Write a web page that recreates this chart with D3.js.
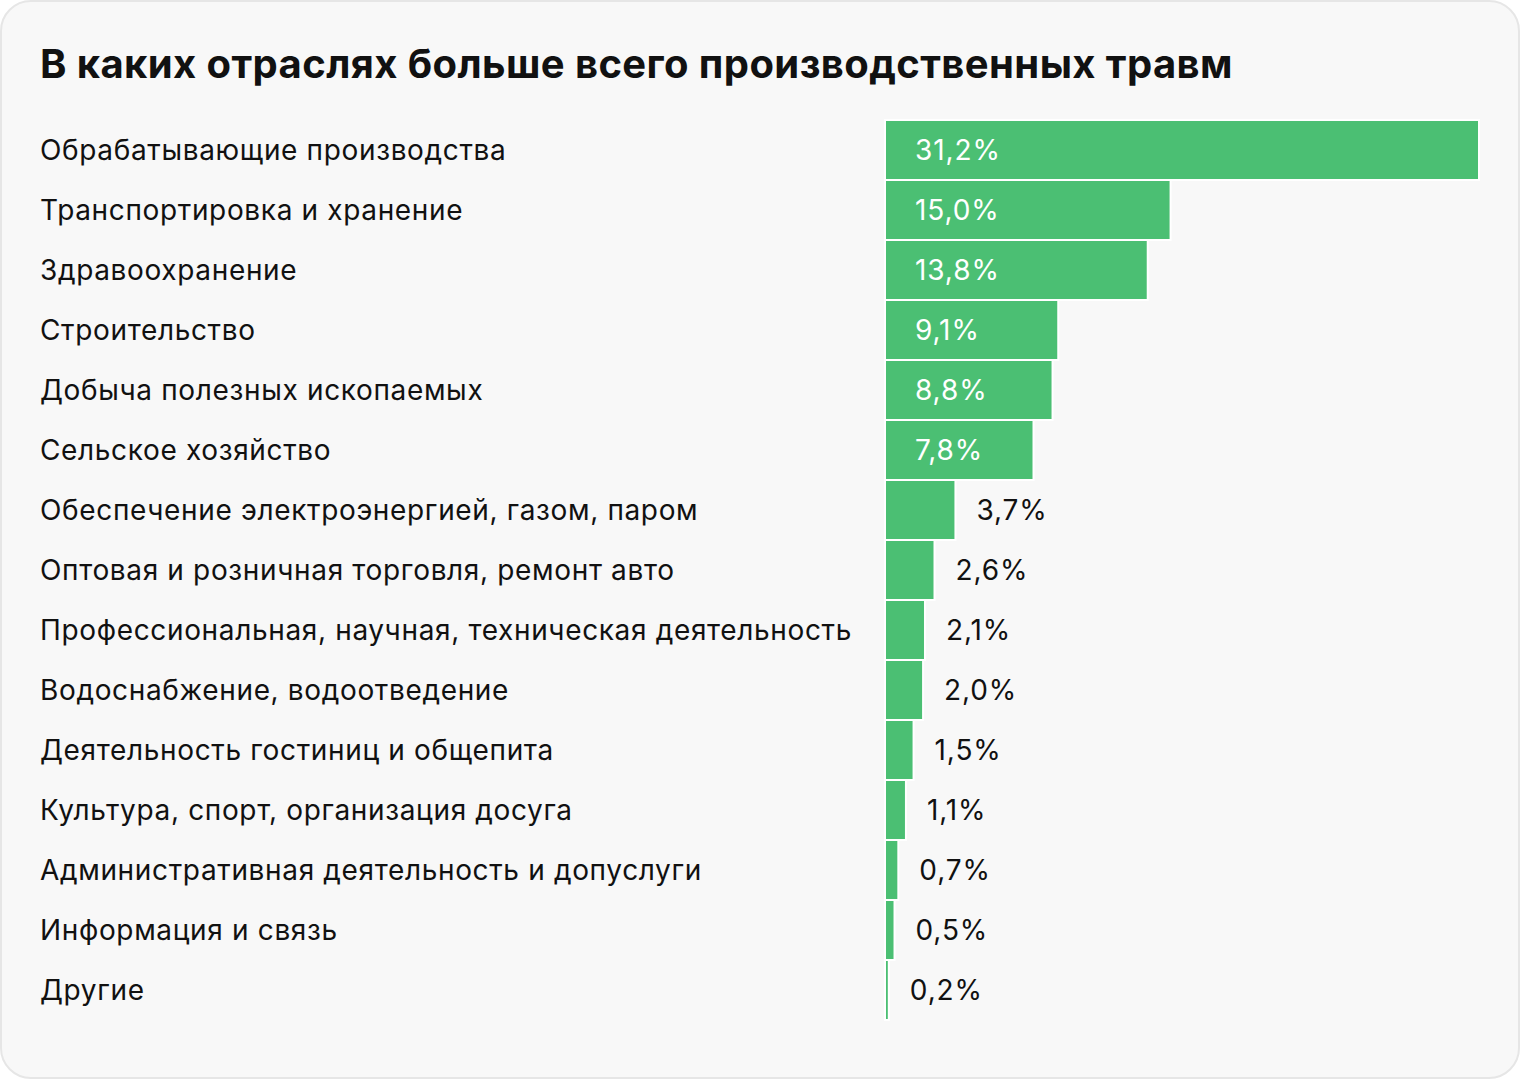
<!DOCTYPE html>
<html><head><meta charset="utf-8">
<script src="https://cdn.jsdelivr.net/npm/d3@7"></script>
<style>
html,body{margin:0;padding:0;background:#fff;}
svg{display:block;font-family:Inter,Roboto,"Noto Sans",sans-serif;}
</style></head>
<body><svg id="c" width="1520" height="1080"></svg>
<script>
const title = "В каких отраслях больше всего производственных травм";
const categories = [
  "Обрабатывающие производства",
  "Транспортировка и хранение",
  "Здравоохранение",
  "Строительство",
  "Добыча полезных ископаемых",
  "Сельское хозяйство",
  "Обеспечение электроэнергией, газом, паром",
  "Оптовая и розничная торговля, ремонт авто",
  "Профессиональная, научная, техническая деятельность",
  "Водоснабжение, водоотведение",
  "Деятельность гостиниц и общепита",
  "Культура, спорт, организация досуга",
  "Административная деятельность и допуслуги",
  "Информация и связь",
  "Другие"
];
const values = [31.2, 15.0, 13.8, 9.1, 8.8, 7.8, 3.7, 2.6, 2.1, 2.0, 1.5, 1.1, 0.7, 0.5, 0.2];
const insideThreshold = 5;

const svg = d3.select("#c");
svg.append("rect").attr("x",1).attr("y",1).attr("width",1518).attr("height",1077)
  .attr("rx",30).attr("fill","#f8f8f8").attr("stroke","#e6e6e6").attr("stroke-width",2);

svg.append("text").attr("x",40).attr("y",78).attr("font-size",40).attr("font-weight",700)
  .attr("letter-spacing",0.4).attr("fill","#111").text(title);

const x = d3.scaleLinear().domain([0, 31.2]).range([885, 1479]);
const y = d3.scaleBand().domain(categories).range([120, 1020]).paddingInner(0).paddingOuter(0);

const fmt = v => v.toFixed(1).replace(".", ",") + "%";

const g = svg.append("g");
const rows = g.selectAll("g.row").data(categories.map((c,i)=>({c, v: values[i]}))).join("g");

rows.append("rect")
  .attr("x", x(0))
  .attr("y", d => y(d.c))
  .attr("width", d => x(d.v) - x(0))
  .attr("height", y.bandwidth())
  .attr("fill", "#4bbf73")
  .attr("stroke", "#ffffff").attr("stroke-width", 2);

rows.append("text")
  .attr("x", 40)
  .attr("y", d => y(d.c) + y.bandwidth()/2 + 10)
  .attr("font-size", 28).attr("letter-spacing", 0.65).attr("fill", "#111")
  .text(d => d.c);

rows.append("text")
  .attr("x", d => d.v >= insideThreshold ? x(0) + 30 : x(d.v) + 21)
  .attr("y", d => y(d.c) + y.bandwidth()/2 + 10)
  .attr("font-size", 28).attr("letter-spacing", 0.9)
  .attr("fill", d => d.v >= insideThreshold ? "#ffffff" : "#111")
  .text(d => fmt(d.v));
</script></body></html>
